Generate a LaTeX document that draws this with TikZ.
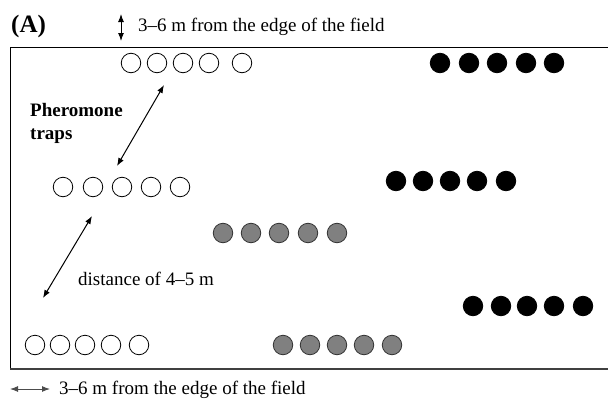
\documentclass[tikz,border=0pt]{standalone}
\usepackage{fontspec}
\setmainfont{Liberation Serif}
\usetikzlibrary{arrows.meta}
\begin{document}
\begin{tikzpicture}[x=1pt,y=-1pt,
  trap/.style={circle,draw=black,line width=0.8pt,minimum size=19.5pt,inner sep=0pt},
  whitetrap/.style={trap,fill=white},
  blacktrap/.style={trap,fill=black},
  graytrap/.style={trap,fill=gray,draw=black!80},
  dblarrow/.style={line width=1pt,{Latex[length=8pt,width=6pt]}-{Latex[length=8pt,width=6pt]}},
  txt/.style={anchor=base west,inner sep=0pt,font=\fontsize{19}{22}\selectfont}]
\useasboundingbox (0,0) rectangle (608,399);
% field frame
\draw[line width=1pt] (609,47) -- (10,47) -- (10,369);
\draw[line width=1.1pt,black!75] (10,369) -- (609,369);
% top white row
\foreach \x [count=\i] in {131,157,183,209,242} \node[whitetrap] (tw\i) at (\x,63) {};
% top black row
\foreach \x [count=\i] in {440,469,497,526,554} \node[blacktrap] (tb\i) at (\x,63) {};
% middle white row
\foreach \x [count=\i] in {63,93,122,151,180} \node[whitetrap] (mw\i) at (\x,187) {};
% middle black row
\foreach \x [count=\i] in {396,423,450,477,506} \node[blacktrap] (mb\i) at (\x,181) {};
% middle gray row
\foreach \x [count=\i] in {223,251,279,308,337} \node[graytrap] (mg\i) at (\x,233) {};
% bottom black row
\foreach \x [count=\i] in {473,501,527,554,583} \node[blacktrap] (bb\i) at (\x,306) {};
% bottom white row
\foreach \x [count=\i] in {35,60,85,111,139} \node[whitetrap] (bw\i) at (\x,345) {};
% bottom gray row
\foreach \x [count=\i] in {283,310,337,364,392} \node[graytrap] (bg\i) at (\x,345) {};
% labels
\node[anchor=base west,inner sep=0pt,font=\fontsize{25}{28}\selectfont\bfseries] (lab) at (11,32) {(A)};
\coordinate (va) at (121,14);
\coordinate (vb) at (121,41);
\draw[dblarrow] (va) -- (vb);
\node[txt] (toptext) at (138,31) {3–6 m from the edge of the field};
\node[txt,font=\fontsize{19}{23}\selectfont\bfseries,align=left,anchor=north west] (phero) at (30,103) {Pheromone\\traps};
\coordinate (a1s) at (117,166);
\coordinate (a1e) at (164,85);
\draw[dblarrow] (a1s) -- (a1e);
\coordinate (a2s) at (43,298);
\coordinate (a2e) at (92,216);
\draw[dblarrow] (a2s) -- (a2e);
\node[txt] (dist) at (78,285) {distance of 4–5 m};
\coordinate (ha) at (10,389);
\coordinate (hb) at (50,389);
\draw[dblarrow,draw=black!70] (ha) -- (hb);
\node[txt] (bottext) at (59,394) {3–6 m from the edge of the field};
\end{tikzpicture}
\end{document}
